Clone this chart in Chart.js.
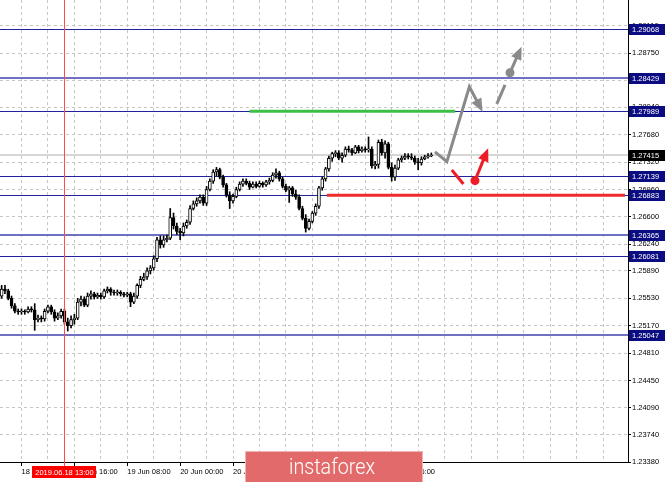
<!DOCTYPE html>
<html>
<head>
<meta charset="utf-8">
<script src="https://cdn.jsdelivr.net/npm/chart.js@4.4.1/dist/chart.umd.min.js"></script>
<style>
  html, body { margin: 0; padding: 0; background: #fff; }
  #wrap { width: 665px; height: 482px; }
</style>
</head>
<body>
<div id="wrap"><canvas id="chart" width="665" height="482"></canvas></div>
<script>
// ── GBPUSD H1 candles (open / high / low / close) ───────────────────────────
const OPEN = [
  1.2556, 1.2565, 1.2563, 1.2553, 1.2543, 1.2536, 1.2535, 1.2536, 1.2535, 1.2539,
  1.2538, 1.2525, 1.2527, 1.2526, 1.2536, 1.2542, 1.2535, 1.2527, 1.2530, 1.2536,
  1.2522, 1.2517, 1.2525, 1.2527, 1.2548, 1.2552, 1.2544, 1.2556, 1.2559, 1.2555,
  1.2557, 1.2555, 1.2563, 1.2565, 1.2561, 1.2560, 1.2561, 1.2559, 1.2557, 1.2559,
  1.2548, 1.2556, 1.2570, 1.2578, 1.2581, 1.2589, 1.2593, 1.2605, 1.2630, 1.2623,
  1.2630, 1.2632, 1.2659, 1.2648, 1.2641, 1.2639, 1.2648, 1.2653, 1.2671, 1.2677,
  1.2681, 1.2686, 1.2678, 1.2696, 1.2707, 1.2719, 1.2722, 1.2712, 1.2702, 1.2689,
  1.2681, 1.2687, 1.2696, 1.2703, 1.2707, 1.2704, 1.2699, 1.2703, 1.2700, 1.2704,
  1.2702, 1.2706, 1.2708, 1.2715, 1.2718, 1.2710, 1.2700, 1.2695, 1.2698, 1.2690,
  1.2686, 1.2671, 1.2658, 1.2645, 1.2654, 1.2665, 1.2674, 1.2698, 1.2710, 1.2723,
  1.2737, 1.2743, 1.2744, 1.2737, 1.2741, 1.2749, 1.2748, 1.2744, 1.2752, 1.2747,
  1.2749, 1.2748, 1.2749, 1.2727, 1.2729, 1.2758, 1.2744, 1.2756, 1.2725, 1.2712,
  1.2724, 1.2735, 1.2737, 1.2740, 1.2739, 1.2737, 1.2732, 1.2731, 1.2736, 1.2739,
  1.2740,
];
const HIGH = [
  1.2570, 1.2570, 1.2565, 1.2556, 1.2546, 1.2539, 1.2539, 1.2538, 1.2542, 1.2542,
  1.2546, 1.2531, 1.2530, 1.2539, 1.2544, 1.2544, 1.2538, 1.2534, 1.2539, 1.2539,
  1.2527, 1.2530, 1.2532, 1.2553, 1.2556, 1.2555, 1.2560, 1.2563, 1.2561, 1.2560,
  1.2560, 1.2565, 1.2568, 1.2567, 1.2564, 1.2564, 1.2563, 1.2561, 1.2561, 1.2561,
  1.2560, 1.2572, 1.2582, 1.2586, 1.2593, 1.2596, 1.2609, 1.2633, 1.2635, 1.2635,
  1.2636, 1.2671, 1.2665, 1.2652, 1.2645, 1.2652, 1.2656, 1.2675, 1.2681, 1.2685,
  1.2689, 1.2689, 1.2700, 1.2710, 1.2722, 1.2725, 1.2724, 1.2715, 1.2704, 1.2693,
  1.2690, 1.2699, 1.2706, 1.2710, 1.2710, 1.2707, 1.2706, 1.2706, 1.2707, 1.2706,
  1.2708, 1.2711, 1.2718, 1.2723, 1.2720, 1.2712, 1.2703, 1.2700, 1.2700, 1.2695,
  1.2689, 1.2674, 1.2663, 1.2657, 1.2667, 1.2677, 1.2700, 1.2712, 1.2725, 1.2740,
  1.2745, 1.2747, 1.2747, 1.2744, 1.2752, 1.2753, 1.2750, 1.2754, 1.2754, 1.2752,
  1.2752, 1.2765, 1.2752, 1.2733, 1.2761, 1.2762, 1.2760, 1.2758, 1.2731, 1.2728,
  1.2737, 1.2740, 1.2743, 1.2743, 1.2743, 1.2740, 1.2737, 1.2739, 1.2741, 1.2743,
  1.2744,
];
const LOW = [
  1.2553, 1.2559, 1.2551, 1.2540, 1.2534, 1.2532, 1.2532, 1.2532, 1.2534, 1.2535,
  1.2511, 1.2522, 1.2522, 1.2523, 1.2534, 1.2532, 1.2523, 1.2525, 1.2527, 1.2519,
  1.2510, 1.2514, 1.2519, 1.2525, 1.2543, 1.2542, 1.2542, 1.2552, 1.2552, 1.2553,
  1.2552, 1.2553, 1.2560, 1.2557, 1.2557, 1.2557, 1.2556, 1.2555, 1.2555, 1.2542,
  1.2546, 1.2553, 1.2567, 1.2576, 1.2578, 1.2585, 1.2590, 1.2601, 1.2619, 1.2620,
  1.2627, 1.2630, 1.2644, 1.2637, 1.2630, 1.2635, 1.2645, 1.2650, 1.2669, 1.2674,
  1.2678, 1.2675, 1.2675, 1.2694, 1.2704, 1.2714, 1.2710, 1.2699, 1.2686, 1.2671,
  1.2678, 1.2685, 1.2694, 1.2700, 1.2702, 1.2696, 1.2698, 1.2698, 1.2699, 1.2699,
  1.2700, 1.2703, 1.2706, 1.2711, 1.2707, 1.2698, 1.2693, 1.2679, 1.2687, 1.2683,
  1.2669, 1.2656, 1.2640, 1.2643, 1.2652, 1.2662, 1.2671, 1.2695, 1.2707, 1.2720,
  1.2733, 1.2739, 1.2735, 1.2732, 1.2739, 1.2745, 1.2741, 1.2743, 1.2744, 1.2745,
  1.2745, 1.2745, 1.2724, 1.2723, 1.2724, 1.2741, 1.2737, 1.2723, 1.2707, 1.2708,
  1.2722, 1.2732, 1.2735, 1.2736, 1.2735, 1.2729, 1.2722, 1.2728, 1.2735, 1.2737,
  1.2739,
];
const CLOSE = [
  1.2565, 1.2563, 1.2553, 1.2543, 1.2536, 1.2535, 1.2536, 1.2535, 1.2539, 1.2538,
  1.2525, 1.2527, 1.2526, 1.2536, 1.2542, 1.2535, 1.2527, 1.2530, 1.2536, 1.2522,
  1.2517, 1.2525, 1.2527, 1.2548, 1.2552, 1.2544, 1.2556, 1.2559, 1.2555, 1.2557,
  1.2555, 1.2563, 1.2565, 1.2561, 1.2560, 1.2561, 1.2559, 1.2557, 1.2559, 1.2548,
  1.2556, 1.2570, 1.2578, 1.2581, 1.2589, 1.2593, 1.2605, 1.2630, 1.2623, 1.2630,
  1.2632, 1.2659, 1.2648, 1.2641, 1.2639, 1.2648, 1.2653, 1.2671, 1.2677, 1.2681,
  1.2686, 1.2678, 1.2696, 1.2707, 1.2719, 1.2722, 1.2712, 1.2702, 1.2689, 1.2681,
  1.2687, 1.2696, 1.2703, 1.2707, 1.2704, 1.2699, 1.2703, 1.2700, 1.2704, 1.2702,
  1.2706, 1.2708, 1.2715, 1.2718, 1.2710, 1.2700, 1.2695, 1.2698, 1.2690, 1.2686,
  1.2671, 1.2658, 1.2645, 1.2654, 1.2665, 1.2674, 1.2698, 1.2710, 1.2723, 1.2737,
  1.2743, 1.2744, 1.2737, 1.2741, 1.2749, 1.2748, 1.2744, 1.2752, 1.2747, 1.2749,
  1.2748, 1.2749, 1.2727, 1.2729, 1.2758, 1.2744, 1.2756, 1.2725, 1.2712, 1.2724,
  1.2735, 1.2737, 1.2740, 1.2739, 1.2737, 1.2732, 1.2731, 1.2736, 1.2739, 1.2740,
  1.2741,
];

// ── axes ────────────────────────────────────────────────────────────────────
const SLOT_COUNT = 190;            // bar slots across the window
const TIME_TICK_FIRST = 6;         // slot of the first dated tick
const TIME_TICK_STEP = 16;
const TIME_GRID_STEP = 8;
const TIME_TICKS = [
  "18 Jun 00:00", "18 Jun 16:00", "19 Jun 08:00", "20 Jun 00:00", "20 Jun 16:00",
  "21 Jun 08:00", "24 Jun 00:00", "24 Jun 16:00",
];
const PRICE_MIN = 1.2338;
const PRICE_MAX = 1.29449;
const PRICE_TICKS = [
  1.2338, 1.2374, 1.2409, 1.2445, 1.2481, 1.2517, 1.2553, 1.2589, 1.2624,
  1.2660, 1.2696, 1.2732, 1.2768, 1.2804, 1.2839, 1.2875, 1.2911,
];

// ── analyst markup ──────────────────────────────────────────────────────────
const LEVELS = [1.29068, 1.28429, 1.27989, 1.27139, 1.26883, 1.26365, 1.26081, 1.25047];
const SOFT_LEVELS = [1.28429, 1.26365, 1.25047];
const CURRENT_PRICE = 1.27415;
const CROSS_SLOT = 19;
const CROSS_LABEL = "2019.06.18 13:00";
const GREEN_SPAN = [75, 137.2, 1.27989];
const RED_SPAN = [98.4, 188.6, 1.26883];
const GRAY_PATH = [[131.1, 1.27453], [134.7, 1.27325], [141.5, 1.28310], [145.5, 1.27982]];
const GRAY_DASH = [[149.8, 1.28085], [152.3, 1.28333]];
const GRAY_NEXT = [[153.8, 1.28494], [157.3, 1.28836]];
const RED_DIP = [[136.2, 1.27216], [139.7, 1.27032]];
const RED_NEXT = [[143.2, 1.27076], [147.2, 1.27501]];

const FONT = { family: "'Liberation Sans', Arial, sans-serif", size: 7.5 };
const slots = Array.from({ length: SLOT_COUNT }, (_, i) => i);
const bodies = OPEN.map((o, i) => [o, CLOSE[i]]);
const wicks = LOW.map((l, i) => [l, HIGH[i]]);

const tickSlot = (i) => (i - TIME_TICK_FIRST) / TIME_TICK_STEP;
const isTimeTick = (i) => i >= TIME_TICK_FIRST && Number.isInteger(tickSlot(i)) && tickSlot(i) < TIME_TICKS.length;
const isTimeGrid = (i) => i >= TIME_TICK_FIRST && (i - TIME_TICK_FIRST) % TIME_GRID_STEP === 0;

function px(chart, [slot, price]) {
  return [chart.scales.x.getPixelForValue(slot), chart.scales.y.getPixelForValue(price)];
}

function arrow(ctx, pts, color, head) {
  ctx.strokeStyle = color;
  ctx.fillStyle = color;
  ctx.lineWidth = 3;
  ctx.lineJoin = "miter";
  ctx.lineCap = "butt";
  const n = pts.length;
  const [ex, ey] = pts[n - 1];
  const [qx, qy] = pts[n - 2];
  const a = Math.atan2(ey - qy, ex - qx);
  const back = head ? 9 : 0;
  ctx.beginPath();
  ctx.moveTo(pts[0][0], pts[0][1]);
  for (let i = 1; i < n - 1; i++) ctx.lineTo(pts[i][0], pts[i][1]);
  ctx.lineTo(ex - Math.cos(a) * back, ey - Math.sin(a) * back);
  ctx.stroke();
  if (!head) return;
  const len = 13, half = 5.5;
  const bx = ex - Math.cos(a) * len, by = ey - Math.sin(a) * len;
  ctx.beginPath();
  ctx.moveTo(ex, ey);
  ctx.lineTo(bx + Math.sin(a) * half, by - Math.cos(a) * half);
  ctx.lineTo(bx - Math.sin(a) * half, by + Math.cos(a) * half);
  ctx.closePath();
  ctx.fill();
}

function dot(ctx, [x, y], color) {
  ctx.fillStyle = color;
  ctx.beginPath();
  ctx.arc(x, y, 4.5, 0, Math.PI * 2);
  ctx.fill();
}

function priceBox(ctx, area, y, text, bg) {
  ctx.fillStyle = bg;
  ctx.fillRect(area.right + 1, Math.round(y) - 5, 36, 11);
  ctx.fillStyle = "#fff";
  ctx.font = `${FONT.size}px ${FONT.family}`;
  ctx.textBaseline = "middle";
  ctx.textAlign = "left";
  ctx.fillText(text, area.right + 4, Math.round(y) + 0.5);
}

const markup = {
  id: "markup",
  beforeDatasetsDraw(chart) {
    const { ctx, chartArea: a, scales: { y } } = chart;
    ctx.save();
    // bid line
    ctx.strokeStyle = "#d6d6d6";
    ctx.lineWidth = 2;
    let yy = Math.round(y.getPixelForValue(CURRENT_PRICE));
    ctx.beginPath(); ctx.moveTo(a.left, yy); ctx.lineTo(a.right, yy); ctx.stroke();
    // support / resistance levels
    LEVELS.forEach((p) => {
      const soft = SOFT_LEVELS.includes(p);
      yy = Math.round(y.getPixelForValue(p));
      ctx.lineWidth = soft ? 2 : 1;
      ctx.strokeStyle = soft ? "#7070c0" : "#22229a";
      const off = soft ? 0 : 0.5;
      ctx.beginPath(); ctx.moveTo(a.left, yy + off); ctx.lineTo(a.right, yy + off); ctx.stroke();
    });
    ctx.restore();
  },
  afterDatasetsDraw(chart) {
    const { ctx, chartArea: a, scales: { x, y } } = chart;
    ctx.save();
    // selected bar
    const cx = Math.round(x.getPixelForValue(CROSS_SLOT)) + 0.5;
    ctx.strokeStyle = "#ff4b4b";
    ctx.lineWidth = 1;
    ctx.beginPath(); ctx.moveTo(cx, a.top); ctx.lineTo(cx, a.bottom + 4); ctx.stroke();
    // target and stop lines
    ctx.lineWidth = 3;
    ctx.strokeStyle = "#3cbf45";
    let yy = y.getPixelForValue(GREEN_SPAN[2]);
    ctx.beginPath(); ctx.moveTo(x.getPixelForValue(GREEN_SPAN[0]), yy); ctx.lineTo(x.getPixelForValue(GREEN_SPAN[1]), yy); ctx.stroke();
    ctx.strokeStyle = "#ee2a2a";
    yy = y.getPixelForValue(RED_SPAN[2]);
    ctx.beginPath(); ctx.moveTo(x.getPixelForValue(RED_SPAN[0]), yy); ctx.lineTo(x.getPixelForValue(RED_SPAN[1]), yy); ctx.stroke();
    // scenario arrows
    const gray = "#8a8a8a", red = "#ee1d25";
    arrow(ctx, GRAY_PATH.map((p) => px(chart, p)), gray, true);
    arrow(ctx, GRAY_DASH.map((p) => px(chart, p)), gray, false);
    dot(ctx, px(chart, GRAY_NEXT[0]), gray);
    arrow(ctx, GRAY_NEXT.map((p) => px(chart, p)), gray, true);
    arrow(ctx, RED_DIP.map((p) => px(chart, p)), red, false);
    dot(ctx, px(chart, RED_NEXT[0]), red);
    arrow(ctx, RED_NEXT.map((p) => px(chart, p)), red, true);
    ctx.restore();
  },
  afterDraw(chart) {
    const { ctx, chartArea: a, scales: { x, y } } = chart;
    ctx.save();
    LEVELS.forEach((p) => priceBox(ctx, a, y.getPixelForValue(p), p.toFixed(5), "#0c0c82"));
    priceBox(ctx, a, y.getPixelForValue(CURRENT_PRICE), CURRENT_PRICE.toFixed(5), "#000");

    // time label of the selected bar
    ctx.font = `${FONT.size}px ${FONT.family}`;
    const cx = x.getPixelForValue(CROSS_SLOT);
    const w = ctx.measureText(CROSS_LABEL).width + 6;
    ctx.fillStyle = "#ff0000";
    ctx.fillRect(Math.round(cx - w / 2), a.bottom + 4, Math.round(w), 12);
    ctx.fillStyle = "#fff";
    ctx.textAlign = "center";
    ctx.textBaseline = "middle";
    ctx.fillText(CROSS_LABEL, cx, a.bottom + 10.5);

    // watermark
    ctx.fillStyle = "#f2b3b3";
    ctx.fillRect(245, 451, 178, 31);
    ctx.fillStyle = "#e36a6a";
    ctx.fillRect(246, 452, 176, 30);
    ctx.font = "300 22px Roboto, 'Liberation Sans', sans-serif";
    const tw = ctx.measureText("instaforex").width;
    ctx.translate(332, 468);
    ctx.scale(86 / tw, 1);
    ctx.fillStyle = "#fff";
    ctx.textAlign = "center";
    ctx.textBaseline = "middle";
    ctx.fillText("instaforex", 0, 0);
    ctx.restore();
  },
};

new Chart(document.getElementById("chart"), {
  type: "bar",
  data: {
    labels: slots,
    datasets: [
      {
        data: bodies,
        backgroundColor: (c) => (CLOSE[c.dataIndex] >= OPEN[c.dataIndex] ? "#fff" : "#000"),
        borderColor: "#000",
        borderWidth: 1,
        borderSkipped: false,
        barThickness: 3,
        minBarLength: 1,
        grouped: false,
      },
      {
        data: wicks,
        backgroundColor: "#000",
        borderWidth: 0,
        barThickness: 1,
        grouped: false,
      },
    ],
  },
  options: {
    responsive: false,
    animation: false,
    devicePixelRatio: 1,
    layout: { padding: 0 },
    plugins: { legend: { display: false }, tooltip: { enabled: false } },
    scales: {
      x: {
        type: "category",
        offset: true,
        grid: {
          offset: false,
          color: (c) => (isTimeGrid(c.index) ? "#c6c6c6" : "rgba(0,0,0,0)"),
          tickColor: (c) => (isTimeTick(c.index) ? "#000" : "rgba(0,0,0,0)"),
          tickLength: 4,
          tickBorderDash: [],
        },
        border: { color: "#000", width: 1, dash: [3, 3] },
        ticks: {
          autoSkip: false,
          maxRotation: 0,
          minRotation: 0,
          align: "start",
          padding: 1,
          color: "#000",
          font: FONT,
          callback: (v, i) => (isTimeTick(i) ? TIME_TICKS[tickSlot(i)] : ""),
        },
        afterFit: (s) => { s.height = 20; s.paddingLeft = 0; s.paddingRight = 0; },
      },
      y: {
        type: "linear",
        position: "right",
        min: PRICE_MIN,
        max: PRICE_MAX,
        afterBuildTicks: (s) => { s.ticks = PRICE_TICKS.map((v) => ({ value: v })); },
        grid: { color: "#c6c6c6", tickColor: "#000", tickLength: 3, tickBorderDash: [] },
        border: { color: "#000", width: 1, dash: [3, 3] },
        ticks: { color: "#000", font: FONT, padding: 1, callback: (v) => Number(v).toFixed(5) },
        afterFit: (s) => { s.width = 37; s.paddingTop = 0; s.paddingBottom = 0; },
      },
    },
  },
  plugins: [markup],
});
</script>
</body>
</html>
